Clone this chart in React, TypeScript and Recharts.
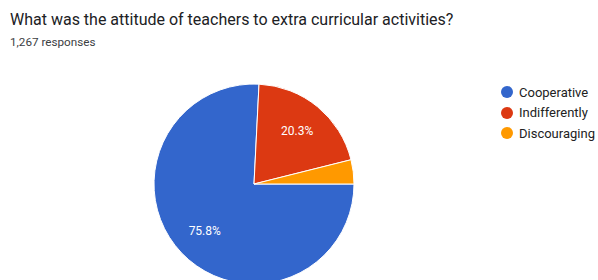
import { PieChart, Pie, Cell, Legend } from "recharts"

const categories = ["Cooperative", "Indifferently", "Discouraging"]
const percentages = [75.8, 20.3, 3.9]
const COLORS = ["#3366cc", "#dc3912", "#ff9900"]

const data = categories.map((name, i) => ({ name, value: percentages[i] }))

const RADIAN = Math.PI / 180

const renderLabel = (props: any) => {
    const { cx, cy, midAngle, outerRadius, value } = props
    if (value < 5) return null
    const r = outerRadius * 0.68
    const x = cx + r * Math.cos(-midAngle * RADIAN)
    const y = cy + r * Math.sin(-midAngle * RADIAN)
    return (
        <text x={x} y={y} fill="#ffffff" fontSize={12} fontFamily="Roboto" textAnchor="middle" dominantBaseline="central">
            {`${value}%`}
        </text>
    )
}

const renderLegend = () => (
    <div style={{ fontFamily: "Roboto", fontSize: 13, color: "#222" }}>
        {categories.map((name, i) => (
            <div key={name} style={{ display: "flex", alignItems: "center", height: 20.5 }}>
                <span
                    style={{
                        width: 12,
                        height: 12,
                        borderRadius: 6,
                        background: COLORS[i],
                        marginRight: 6,
                        display: "inline-block",
                    }}
                />
                {name}
            </div>
        ))}
    </div>
)

export default function App() {
    return (
        <div style={{ position: "absolute", left: 0, top: 0, width: 598, height: 280, background: "#fff", overflow: "hidden" }}>
            <div style={{ position: "absolute", left: 10, top: 10, fontFamily: "Roboto", fontSize: 16, color: "#202124", whiteSpace: "nowrap" }}>
                What was the attitude of teachers to extra curricular activities?
            </div>
            <div style={{ position: "absolute", left: 10, top: 35, fontFamily: "Roboto", fontSize: 11.7, color: "#3c4043", whiteSpace: "nowrap" }}>
                1,267 responses
            </div>
            <PieChart width={598} height={280}>
                <Pie
                    data={data}
                    dataKey="value"
                    nameKey="name"
                    cx={249}
                    cy={179}
                    outerRadius={100}
                    startAngle={0}
                    endAngle={-360}
                    stroke="#ffffff"
                    strokeWidth={1}
                    labelLine={false}
                    label={renderLabel}
                    isAnimationActive={false}
                >
                    {data.map((entry, index) => (
                        <Cell key={`cell-${index}`} fill={COLORS[index % COLORS.length]} />
                    ))}
                </Pie>
                <Legend
                    content={renderLegend}
                    layout="vertical"
                    wrapperStyle={{ position: "absolute", left: 501, top: 82, width: 100 }}
                />
            </PieChart>
        </div>
    )
}
